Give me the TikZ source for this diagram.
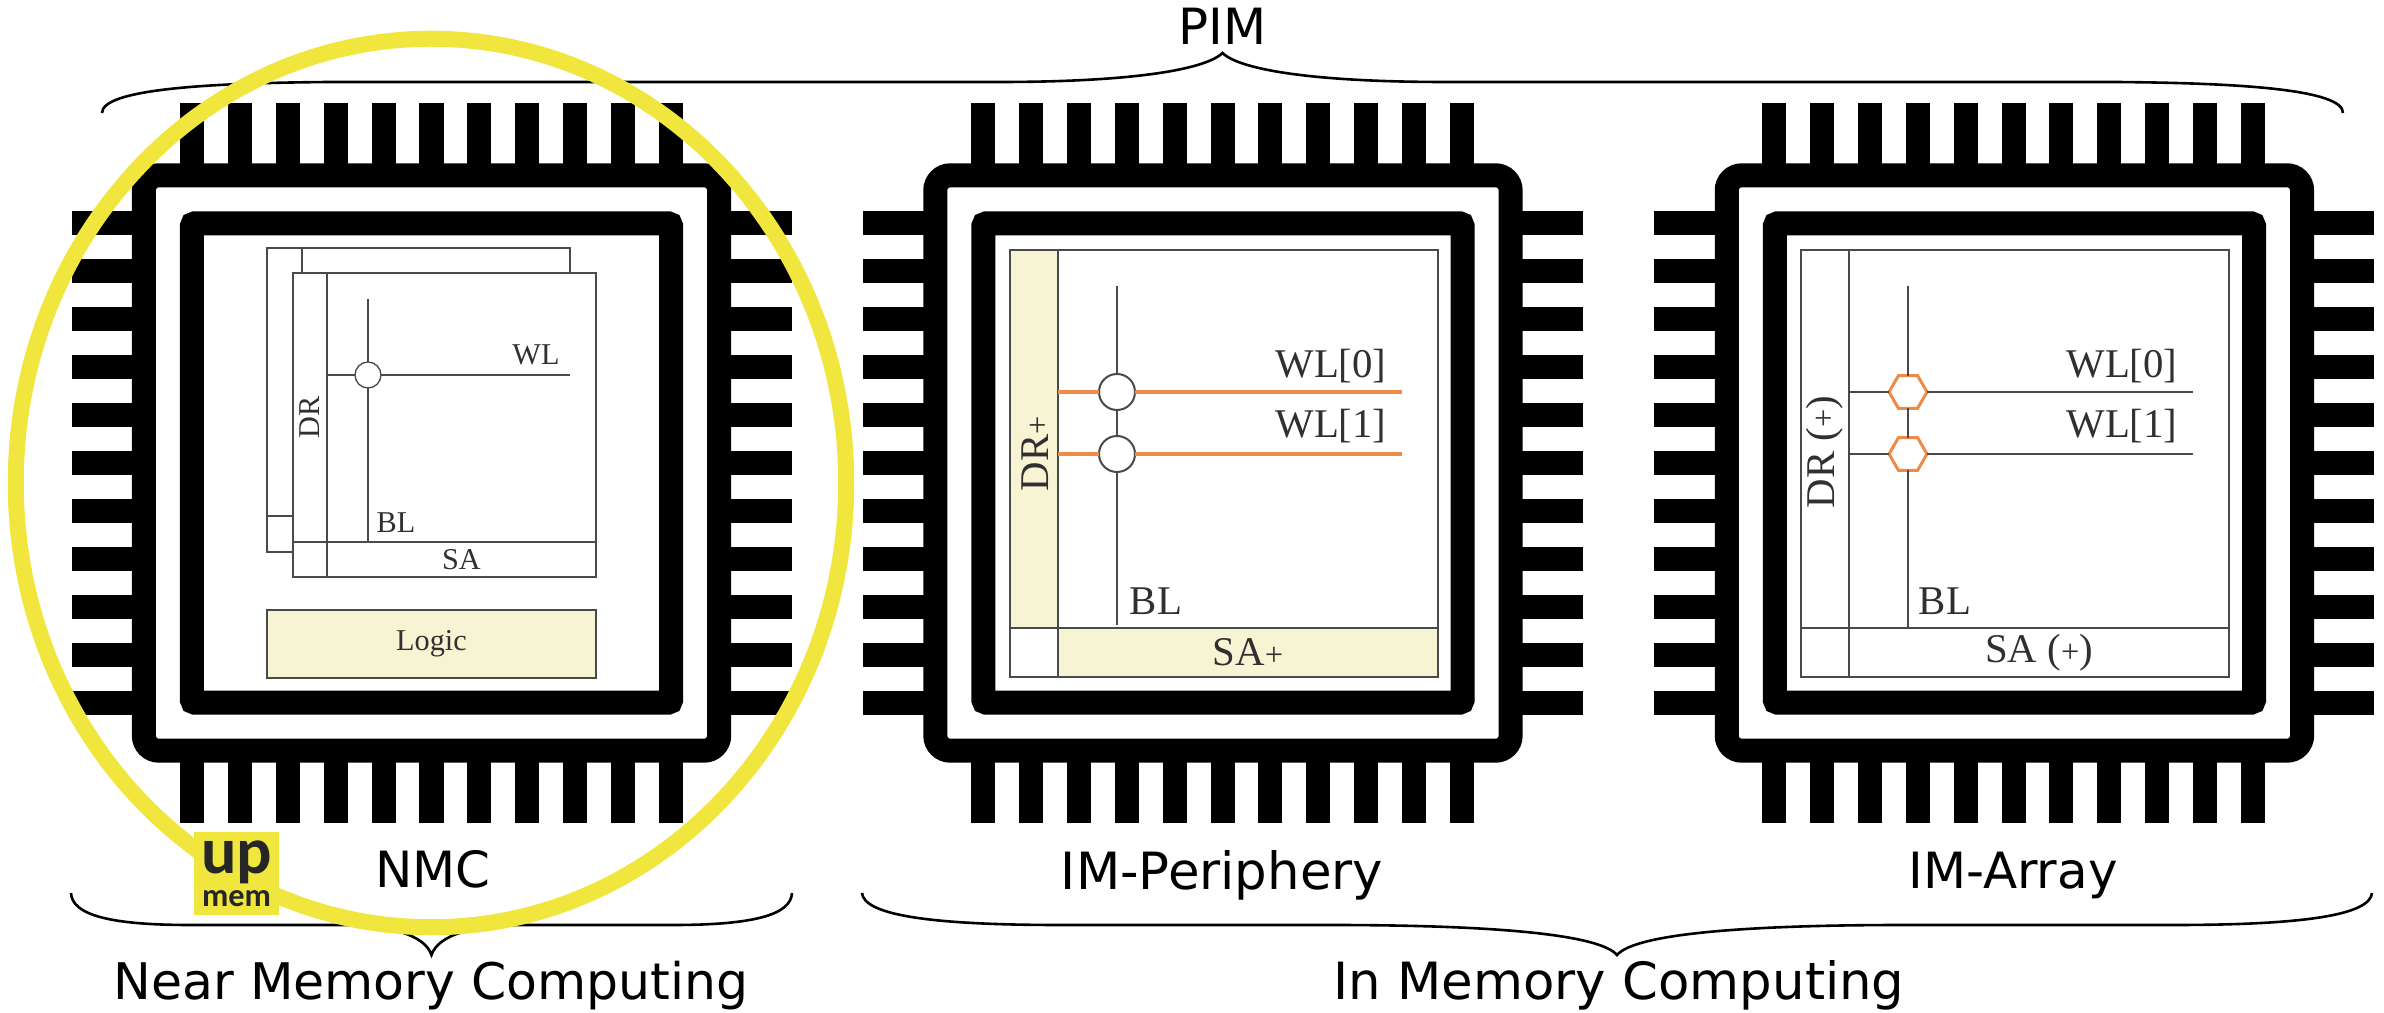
\documentclass[tikz,border=0pt]{standalone}
\usepackage{fontspec}
\usepackage{tikz}
\usetikzlibrary{shapes.geometric}
\setmainfont{Liberation Serif}
\newfontfamily\capfont{DejaVu Sans}
\newfontfamily\logofont{Carlito}
\definecolor{halo}{HTML}{F0E63E}
\definecolor{cream}{HTML}{F7F4D3}
\definecolor{wlorange}{HTML}{EE8B47}
\definecolor{rule}{HTML}{4A4A4A}
\definecolor{ink}{HTML}{303030}
\newcommand{\smplus}{{\fontsize{9.2}{9.2}\selectfont +}}
\tikzset{
  pkgpin/.style={line width=0.24cm,black},
  pkg/.style={draw=black,fill=white,line width=0.24cm,rounded corners=0.15cm,minimum size=5.75cm,inner sep=0,outer sep=0},
  die/.style={draw=black,fill=white,line width=0.24cm,rounded corners=0.03cm,minimum size=4.79cm,inner sep=0,outer sep=0},
  box/.style={draw=rule,fill=white,line width=0.02cm,inner sep=0,outer sep=0,text=ink,font=\fontsize{11.6}{12}\selectfont},
  tinybox/.style={box,line width=0.013cm,font=\fontsize{8.6}{10}\selectfont},
  captxt/.style={font=\capfont\fontsize{14.2}{16}\selectfont,inner sep=0,anchor=base,text=black},
  widecap/.style={captxt,font=\capfont\fontsize{14.6}{16}\selectfont},
  txt/.style={font=\fontsize{11.6}{12}\selectfont,inner sep=0,anchor=base,text=ink},
  tinytxt/.style={font=\fontsize{8.6}{10}\selectfont,inner sep=0,text=ink},
  wire/.style={draw=rule,line width=0.027cm},
  tinywire/.style={draw=rule,line width=0.015cm},
  wl/.style={draw=wlorange,line width=0.04cm},
  cell/.style={circle,draw=rule,fill=white,line width=0.02cm,minimum size=0.36cm,inner sep=0,outer sep=0},
  tinycell/.style={circle,draw=rule,fill=white,line width=0.013cm,minimum size=0.26cm,inner sep=0,outer sep=0},
  hexcell/.style={regular polygon,regular polygon sides=6,draw=wlorange,fill=white,line width=0.03cm,minimum size=0.38cm,inner sep=0,outer sep=0},
  curly/.style={draw=black,line width=0.026cm},
  ring/.style={ellipse,draw=halo,line width=0.16cm,minimum width=8.3cm,minimum height=8.88cm,inner sep=0,outer sep=0}
}
\begin{document}
\begin{tikzpicture}[x=0.01cm,y=-0.01cm,node distance=7.91cm]
  \useasboundingbox (0,0) rectangle (2384,1013);

  % pins run right through, the package covers their middle
  \foreach \cx in {431.5,1222.5,2013.5}
    \foreach \i in {-5,...,5} {
      \draw[pkgpin] (\cx+\i*47.9,103) -- (\cx+\i*47.9,823);
      \draw[pkgpin] (\cx-360,463+\i*48) -- (\cx+360,463+\i*48);
    }

  \node[pkg] (nmc) at (431.5,463) {};
  \node[pkg] (per) [right of=nmc] {};
  \node[pkg] (arr) [right of=per] {};
  \node[die] (nmcdie) at (nmc) {};
  \node[die] (perdie) at (per) {};
  \node[die] (arrdie) at (arr) {};

  % near memory
  \node[tinybox,minimum width=3.03cm,minimum height=3.04cm] (back) at (418.5,400) {};
  \node[tinybox,minimum width=0.35cm,minimum height=2.68cm] (backdr) at (284.5,382) {};
  \node[tinybox,minimum width=3.03cm,minimum height=3.04cm] (front) at (444.5,425) {};
  \node[tinybox,minimum width=0.34cm,minimum height=2.69cm] (frontdr) at (310,407.5) {};
  \node[tinybox,minimum width=2.69cm,minimum height=0.35cm] (sa1) at (461.5,559.5) {SA};
  \node[tinybox,fill=cream,minimum width=3.29cm,minimum height=0.68cm] (logic) at (431.5,644) {Logic};
  \node[tinycell] (c1) at (368,375) {};
  \coordinate (bl1t) at (368,299);
  \coordinate (bl1b) at (368,542);
  \coordinate (wl1l) at (327,375);
  \coordinate (wl1r) at (570,375);
  \draw[tinywire] (bl1t) -- (c1);
  \draw[tinywire] (c1) -- (bl1b);
  \draw[tinywire] (wl1l) -- (c1);
  \draw[tinywire] (c1) -- (wl1r);
  \node[tinytxt] (wl1) at (536,355) {WL};
  \node[tinytxt] (bl1) at (396,523) {BL};
  \node[tinytxt,rotate=90] (dr1) at (310,417) {DR};

  % periphery
  \node[box,minimum width=4.28cm,minimum height=4.27cm] (arr2) at (1224,463.5) {};
  \node[box,fill=cream,minimum width=0.48cm,minimum height=3.78cm] (dr2) at (1034,439) {};
  \node[box,fill=cream,minimum width=3.80cm,minimum height=0.49cm] (sa2) at (1248,652.5) {SA\smplus};
  \node[cell] (c20) at (1117,392) {};
  \node[cell] (c21) at (1117,454) {};
  \coordinate (bl2t) at (1117,286);
  \coordinate (bl2b) at (1117,625);
  \coordinate (w20l) at (1058,392);
  \coordinate (w20r) at (1402,392);
  \coordinate (w21l) at (1058,454);
  \coordinate (w21r) at (1402,454);
  \draw[wire] (bl2t) -- (c20);
  \draw[wire] (c20) -- (c21);
  \draw[wire] (c21) -- (bl2b);
  \draw[wl] (w20l) -- (c20);
  \draw[wl] (c20) -- (w20r);
  \draw[wl] (w21l) -- (c21);
  \draw[wl] (c21) -- (w21r);
  \node[txt] (t20) at (1331,378) {WL[0]};
  \node[txt] (t21) at (1331,438) {WL[1]};
  \node[txt] (bl2) at (1156,615) {BL};
  \node[txt,anchor=center,rotate=90] (drt2) at (1035,454) {DR\smplus};

  % array
  \node[box,minimum width=4.28cm,minimum height=4.27cm] (arr3) at (2015,463.5) {};
  \node[box,minimum width=0.48cm,minimum height=3.78cm] (dr3) at (1825,439) {};
  \node[box,minimum width=3.80cm,minimum height=0.49cm] (sa3) at (2039,652.5) {SA (\smplus)};
  \node[hexcell] (c30) at (1908,392) {};
  \node[hexcell] (c31) at (1908,454) {};
  \coordinate (bl3t) at (1908,286);
  \coordinate (bl3b) at (1908,628);
  \coordinate (w30l) at (1849,392);
  \coordinate (w30r) at (2193,392);
  \coordinate (w31l) at (1849,454);
  \coordinate (w31r) at (2193,454);
  \draw[wire] (bl3t) -- (c30);
  \draw[wire] (c30) -- (c31);
  \draw[wire] (c31) -- (bl3b);
  \draw[wire] (w30l) -- (c30);
  \draw[wire] (c30) -- (w30r);
  \draw[wire] (w31l) -- (c31);
  \draw[wire] (c31) -- (w31r);
  \node[txt] (t30) at (2122,378) {WL[0]};
  \node[txt] (t31) at (2122,438) {WL[1]};
  \node[txt] (bl3) at (1945,615) {BL};
  \node[txt,anchor=center,rotate=90] (drt3) at (1825,452) {DR (\smplus)};

  % braces
  \draw[curly] (102,113) .. controls (102,90) and (200,83) .. (330,82) -- (1000,82)
    .. controls (1130,82) and (1205,70) .. (1222.5,53)
    .. controls (1240,70) and (1315,82) .. (1445,82) -- (2115,82)
    .. controls (2245,83) and (2343,90) .. (2343,113);
  \draw[curly] (71,893) .. controls (72,915) and (110,925) .. (190,925) -- (340,925)
    .. controls (390,925) and (425,935) .. (431.5,955)
    .. controls (438,935) and (473,925) .. (523,925) -- (673,925)
    .. controls (753,925) and (791,915) .. (792,893);
  \draw[curly] (862,893) .. controls (864,915) and (930,925) .. (1060,925) -- (1330,925)
    .. controls (1500,925) and (1600,935) .. (1617,955)
    .. controls (1634,935) and (1734,925) .. (1904,925) -- (2174,925)
    .. controls (2304,925) and (2370,915) .. (2372,893);

  \node[captxt] (pim) at (1222.5,45) {PIM};
  \node[captxt] (nmct) at (433,888) {NMC};
  \node[widecap] (pert) at (1222,890) {IM-Periphery};
  \node[captxt] (arrt) at (2013,889) {IM-Array};
  \node[captxt,font=\capfont\fontsize{14.35}{16}\selectfont] (near) at (431,1000) {Near Memory Computing};
  \node[widecap] (inmem) at (1619,1000) {In Memory Computing};

  \node[ring] (nmcring) at (431,483) {};

  % upmem logo sits on the ring
  \node[fill=halo,minimum width=0.85cm,minimum height=0.83cm,inner sep=0,align=center,text=black!85,
        font=\logofont\bfseries\fontsize{9.2}{9.4}\selectfont] (logo) at (236.5,873.5)
        {{\fontsize{18.8}{9.4}\selectfont up}\\mem};
\end{tikzpicture}
\end{document}
